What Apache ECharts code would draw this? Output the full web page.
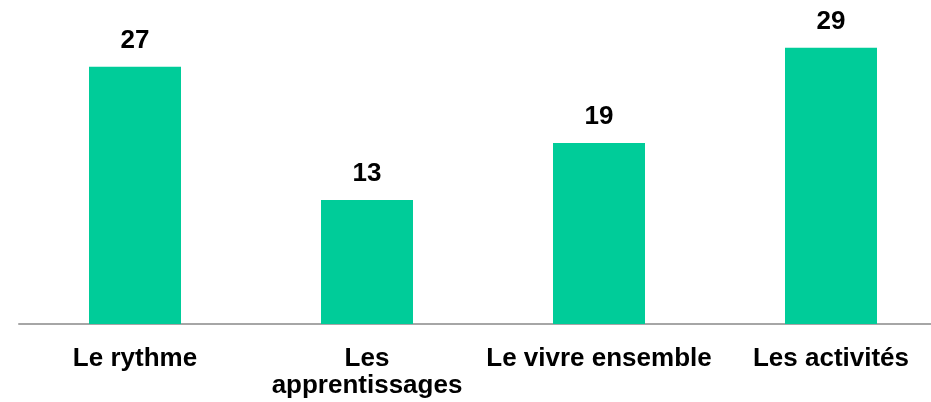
<!DOCTYPE html>
<html>
<head>
<meta charset="utf-8">
<script src="https://cdn.jsdelivr.net/npm/echarts@6/dist/echarts.min.js"></script>
<style>
  html, body { margin: 0; padding: 0; background: #fff; overflow: hidden; }
  #chart { width: 931px; height: 402px; }
</style>
</head>
<body>
<div id="chart"></div>
<script>
const categories = ["Le rythme", "Les\napprentissages", "Le vivre ensemble", "Les activités"];
const values = [27, 13, 19, 29];

const chart = echarts.init(document.getElementById("chart"));
chart.setOption({
  animation: false,
  grid: { left: 19, top: 0, width: 928, bottom: 78, outerBoundsMode: "none", containLabel: false },
  xAxis: {
    type: "category",
    data: categories,
    axisTick: { show: false },
    axisLine: { lineStyle: { color: "#a6a6a6", width: 2 } },
    axisLabel: {
      interval: 0,
      margin: 21,
      color: "#000",
      fontFamily: "Liberation Sans, Arial, sans-serif",
      fontWeight: "bold",
      fontSize: 26,
      lineHeight: 27
    }
  },
  yAxis: {
    type: "value",
    min: 0,
    max: 34,
    show: false,
    splitLine: { show: false }
  },
  series: [{
    type: "bar",
    data: values,
    barWidth: 92,
    itemStyle: { color: "#00cc99" },
    label: {
      show: true,
      position: "top",
      distance: 13,
      color: "#000",
      fontFamily: "Liberation Sans, Arial, sans-serif",
      fontWeight: "bold",
      fontSize: 26
    }
  }]
});
</script>
</body>
</html>
